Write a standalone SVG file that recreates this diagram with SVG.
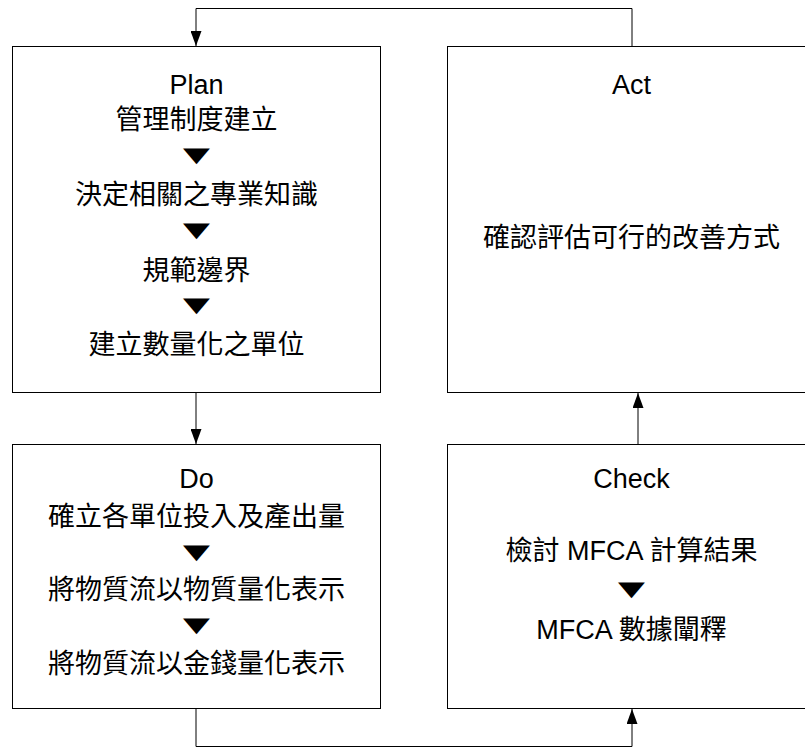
<svg xmlns="http://www.w3.org/2000/svg" width="805" height="747" viewBox="0 0 805 747">
  <style>
    .box { fill: #ffffff; stroke: #000000; stroke-width: 1; }
    .wire { fill: none; stroke: #000000; stroke-width: 1; }
    .t { font-family: "Liberation Sans", "Noto Sans CJK TC", sans-serif; font-size: 27px; fill: #000000; text-anchor: middle; }
    .tri { font-family: "Liberation Sans", sans-serif; font-size: 27px; fill: #000000; text-anchor: middle; }
  </style>
  <defs>
    <marker id="arrow" viewBox="0 0 15 11" markerWidth="15" markerHeight="11" refX="15" refY="5.5" orient="auto" markerUnits="userSpaceOnUse">
      <path d="M0,0 L15,5.5 L0,11 Z" fill="#000000"/>
    </marker>
  </defs>
  <rect width="805" height="747" fill="#ffffff"/>

  <!-- PDCA loop connectors -->
  <g id="connectors">
    <path class="wire" d="M632,46.5 V8.5 H196 V46" marker-end="url(#arrow)"/>
    <path class="wire" d="M196,392.5 V444" marker-end="url(#arrow)"/>
    <path class="wire" d="M196,708.5 V746.5 H632 V709" marker-end="url(#arrow)"/>
    <path class="wire" d="M638,444.5 V393" marker-end="url(#arrow)"/>
  </g>

  <g id="plan">
    <rect class="box" x="12.5" y="46.5" width="368" height="346"/>
    <text class="t" x="196.5" y="94.3">Plan</text>
    <text class="t" x="196.5" y="129">管理制度建立</text>
    <text class="tri" transform="translate(196.5,164) scale(1.7,1)">▼</text>
    <text class="t" x="196.5" y="203.6">決定相關之專業知識</text>
    <text class="tri" transform="translate(196.5,239) scale(1.7,1)">▼</text>
    <text class="t" x="196.5" y="279.8">規範邊界</text>
    <text class="tri" transform="translate(196.5,314) scale(1.7,1)">▼</text>
    <text class="t" x="196.5" y="354">建立數量化之單位</text>
  </g>

  <g id="act">
    <rect class="box" x="447.5" y="46.5" width="368" height="346"/>
    <text class="t" x="631.5" y="94.3">Act</text>
    <text class="t" x="631.5" y="247">確認評估可行的改善方式</text>
  </g>

  <g id="do">
    <rect class="box" x="12.5" y="444.5" width="368" height="264"/>
    <text class="t" x="196.5" y="488">Do</text>
    <text class="t" x="196.5" y="526">確立各單位投入及產出量</text>
    <text class="tri" transform="translate(196.5,561) scale(1.7,1)">▼</text>
    <text class="t" x="196.5" y="599">將物質流以物質量化表示</text>
    <text class="tri" transform="translate(196.5,634) scale(1.7,1)">▼</text>
    <text class="t" x="196.5" y="673">將物質流以金錢量化表示</text>
  </g>

  <g id="check">
    <rect class="box" x="447.5" y="444.5" width="368" height="264"/>
    <text class="t" x="631.5" y="487.7">Check</text>
    <text class="t" x="631.5" y="560">檢討 MFCA 計算結果</text>
    <text class="tri" transform="translate(631.5,598) scale(1.7,1)">▼</text>
    <text class="t" x="631.5" y="638.5">MFCA 數據闡釋</text>
  </g>
</svg>
